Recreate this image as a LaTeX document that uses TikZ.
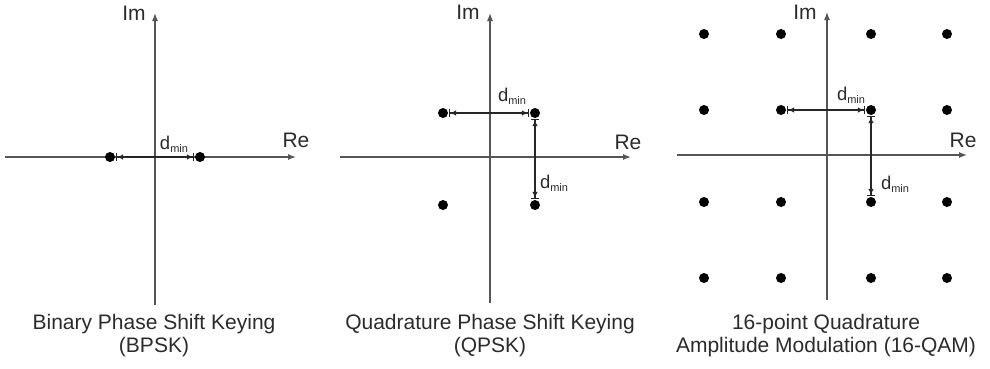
\documentclass[tikz,border=0pt]{standalone}
\usepackage{fontspec}
\setmainfont{Liberation Sans}
\usetikzlibrary{arrows.meta}
\definecolor{axisgray}{HTML}{555555}
\definecolor{textgray}{HTML}{2b2b2b}
\newcommand{\dmin}{d\raisebox{-3pt}{\fontsize{11}{11}\selectfont min}}
\begin{document}
\begin{tikzpicture}[
  x=1pt, y=-1pt,
  font=\fontsize{21}{23}\selectfont, text=textgray,
  axis/.style={draw=axisgray, line width=1.3pt, -{Latex[length=8pt,width=6pt]}},
  pt/.style={circle, fill=black, minimum size=10pt, inner sep=0pt},
  dist/.style={draw=black!85, line width=1.2pt,
    {Bar[width=8pt,line width=1.4pt]Latex[length=6pt,width=5.5pt]}-{Latex[length=6pt,width=5.5pt]Bar[width=8pt,line width=1.4pt]},
    shorten <=0.5pt, shorten >=0.5pt},
  lab/.style={inner sep=1pt},
  dlab/.style={inner sep=1pt, font=\fontsize{18.5}{20}\selectfont},
  caption/.style={align=center}]
\useasboundingbox (0,0) rectangle (990,368);

% BPSK
\coordinate (b-s) at (155,305);
\coordinate (b-n) at (155,13);
\coordinate (b-w) at (5,157);
\coordinate (b-e) at (296,157);
\draw[axis] (b-s) -- (b-n);
\draw[axis] (b-w) -- (b-e);
\node[lab] (b-im) at (134,13) {Im};
\node[lab] (b-re) at (296,140) {Re};
\node[pt] (b1) at (110,157) {};
\node[pt] (b2) at (200,157) {};
\draw[dist] (b1) -- (b2);
\node[dlab] (b-d) at (174,144) {\dmin};
\node[caption] (b-cap) at (154,336) {Binary Phase Shift Keying\\(BPSK)};

% QPSK
\coordinate (q-s) at (490,303);
\coordinate (q-n) at (490,13);
\coordinate (q-w) at (340,157);
\coordinate (q-e) at (631,157);
\draw[axis] (q-s) -- (q-n);
\draw[axis] (q-w) -- (q-e);
\node[lab] (q-im) at (468,12) {Im};
\node[lab] (q-re) at (628,142) {Re};
\node[pt] (q1) at (443,113) {};
\node[pt] (q2) at (535,113) {};
\node[pt] (q3) at (443,205) {};
\node[pt] (q4) at (535,205) {};
\draw[dist] (q1) -- (q2);
\draw[dist] (q2) -- (q4);
\node[dlab] (q-d1) at (512,96) {\dmin};
\node[dlab] (q-d2) at (554,183) {\dmin};
\node[caption] (q-cap) at (490,336) {Quadrature Phase Shift Keying\\(QPSK)};

% 16-QAM
\coordinate (m-s) at (827,300);
\coordinate (m-n) at (827,12);
\coordinate (m-w) at (677,155);
\coordinate (m-e) at (967,155);
\draw[axis] (m-s) -- (m-n);
\draw[axis] (m-w) -- (m-e);
\node[lab] (m-im) at (805,12) {Im};
\node[lab] (m-re) at (963,140) {Re};
\foreach \x [count=\i] in {704,781,871,947}
  \foreach \y [count=\j] in {34,110,202,278}
    \node[pt] (m\i\j) at (\x,\y) {};
\draw[dist] (m22) -- (m32);
\draw[dist] (m32) -- (m33);
\node[dlab] (m-d1) at (851,95) {\dmin};
\node[dlab] (m-d2) at (895,184) {\dmin};
\node[caption] (m-cap) at (826,336) {16-point Quadrature\\Amplitude Modulation (16-QAM)};
\end{tikzpicture}
\end{document}
